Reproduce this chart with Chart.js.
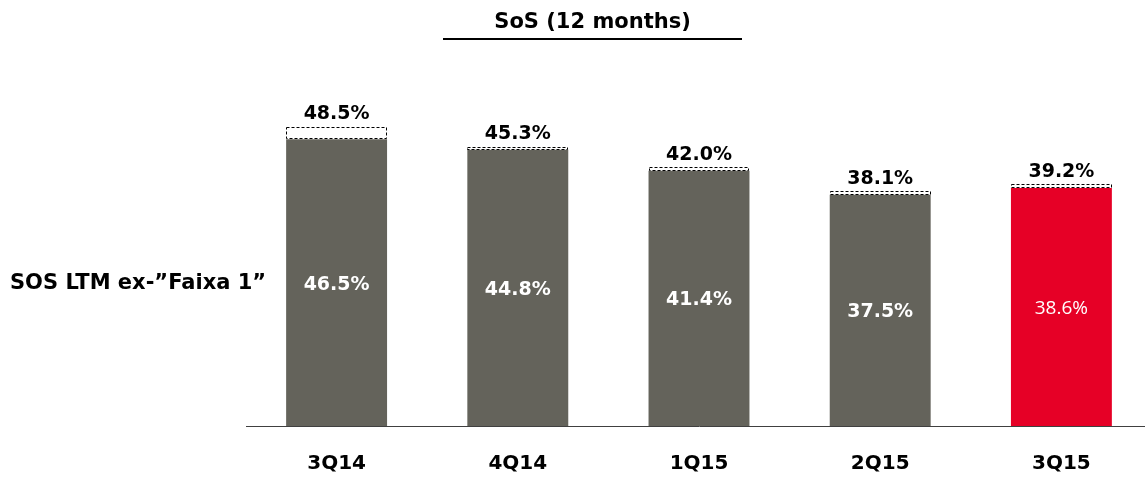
<!DOCTYPE html>
<html>
<head>
<meta charset="utf-8">
<script src="https://cdn.jsdelivr.net/npm/chart.js@4"></script>
<style>
  html, body { margin: 0; padding: 0; background: #fff; overflow: hidden; }
  body { width: 1145px; height: 477px; position: relative; }
  #wrap { position: absolute; left: 0; top: 0; width: 1152px; height: 477px; }
  #chartTitle {
    position: absolute; left: 443px; top: 6px; width: 299px;
    font: bold 21px/30px "DejaVu Sans", sans-serif;
    padding-bottom: 2px;
    border-bottom: 2px solid #000;
    text-align: center;
    color: #000;
  }
  #rowLabel {
    position: absolute; left: 10px; top: 270px;
    font: bold 21px/24px "DejaVu Sans", Verdana, sans-serif;
    white-space: nowrap;
    color: #000;
  }
</style>
</head>
<body>
<div id="wrap"><canvas id="sosChart" width="1152" height="477"></canvas></div>
<div id="chartTitle">SoS (12 months)</div>
<div id="rowLabel">SOS LTM ex-”Faixa 1”</div>
<script>
const quarters = ['3Q14', '4Q14', '1Q15', '2Q15', '3Q15'];
const sosExFaixa1 = [46.5, 44.8, 41.4, 37.5, 38.6];
const sosTotal = [48.5, 45.3, 42.0, 38.1, 39.2];

const GREY = '#64635b';
const RED = '#e60026';
const barColors = quarters.map((q, i) => i === quarters.length - 1 ? RED : GREY);

// part of the total that sits above the ex-Faixa 1 bar
const faixaGap = sosTotal.map((t, i) => +(t - sosExFaixa1[i]).toFixed(1));

const fmt = v => v.toFixed(1) + '%';

const barLabels = {
  id: 'barLabels',
  afterDatasetsDraw(chart) {
    const ctx = chart.ctx;
    const baseMeta = chart.getDatasetMeta(0);
    const gapMeta = chart.getDatasetMeta(1);
    ctx.save();

    // dashed outline on the top segment
    ctx.strokeStyle = '#000';
    ctx.lineWidth = 1;
    ctx.setLineDash([3, 2]);
    gapMeta.data.forEach(bar => {
      const left = Math.round(bar.x - bar.width / 2) + 0.5;
      const right = Math.round(bar.x + bar.width / 2) - 0.5;
      const top = Math.round(bar.y) + 0.5;
      const bottom = Math.round(bar.base) - 0.5;
      ctx.strokeRect(left, top, right - left, bottom - top);
    });
    ctx.setLineDash([]);

    ctx.textAlign = 'center';
    ctx.textBaseline = 'alphabetic';

    // totals above the bars
    ctx.fillStyle = '#000';
    ctx.font = 'bold 19px "DejaVu Sans", Verdana, sans-serif';
    gapMeta.data.forEach((bar, i) => {
      ctx.fillText(fmt(sosTotal[i]), bar.x, bar.y - 7.5);
    });

    // values inside the bars
    ctx.fillStyle = '#fff';
    baseMeta.data.forEach((bar, i) => {
      const last = i === quarters.length - 1;
      ctx.font = last
        ? '19px "Open Sans", sans-serif'
        : 'bold 19px "DejaVu Sans", Verdana, sans-serif';
      ctx.fillText(fmt(sosExFaixa1[i]), bar.x, (bar.y + bar.base) / 2 + 7);
    });
    ctx.restore();
  }
};

new Chart(document.getElementById('sosChart'), {
  type: 'bar',
  data: {
    labels: quarters,
    datasets: [
      {
        data: sosExFaixa1,
        backgroundColor: barColors,
        borderWidth: 0,
        barPercentage: 0.557,
        categoryPercentage: 1
      },
      {
        data: faixaGap,
        backgroundColor: '#fff',
        borderWidth: 0,
        barPercentage: 0.557,
        categoryPercentage: 1
      }
    ]
  },
  options: {
    responsive: false,
    animation: false,
    layout: { padding: { left: 246, right: 0, top: 56, bottom: 1 } },
    scales: {
      x: {
        stacked: true,
        grid: { display: true, drawOnChartArea: false, drawTicks: true, tickLength: 26, color: 'rgba(0,0,0,0)' },
        border: { display: true, color: '#404040', width: 1 },
        ticks: {
          padding: 0,
          color: '#000',
          font: { family: '"DejaVu Sans", Verdana, sans-serif', size: 20, weight: 'bold' }
        }
      },
      y: {
        stacked: true,
        display: false,
        min: 0,
        max: 60
      }
    },
    plugins: {
      legend: { display: false },
      tooltip: { enabled: false }
    }
  },
  plugins: [barLabels]
});
</script>
</body>
</html>
